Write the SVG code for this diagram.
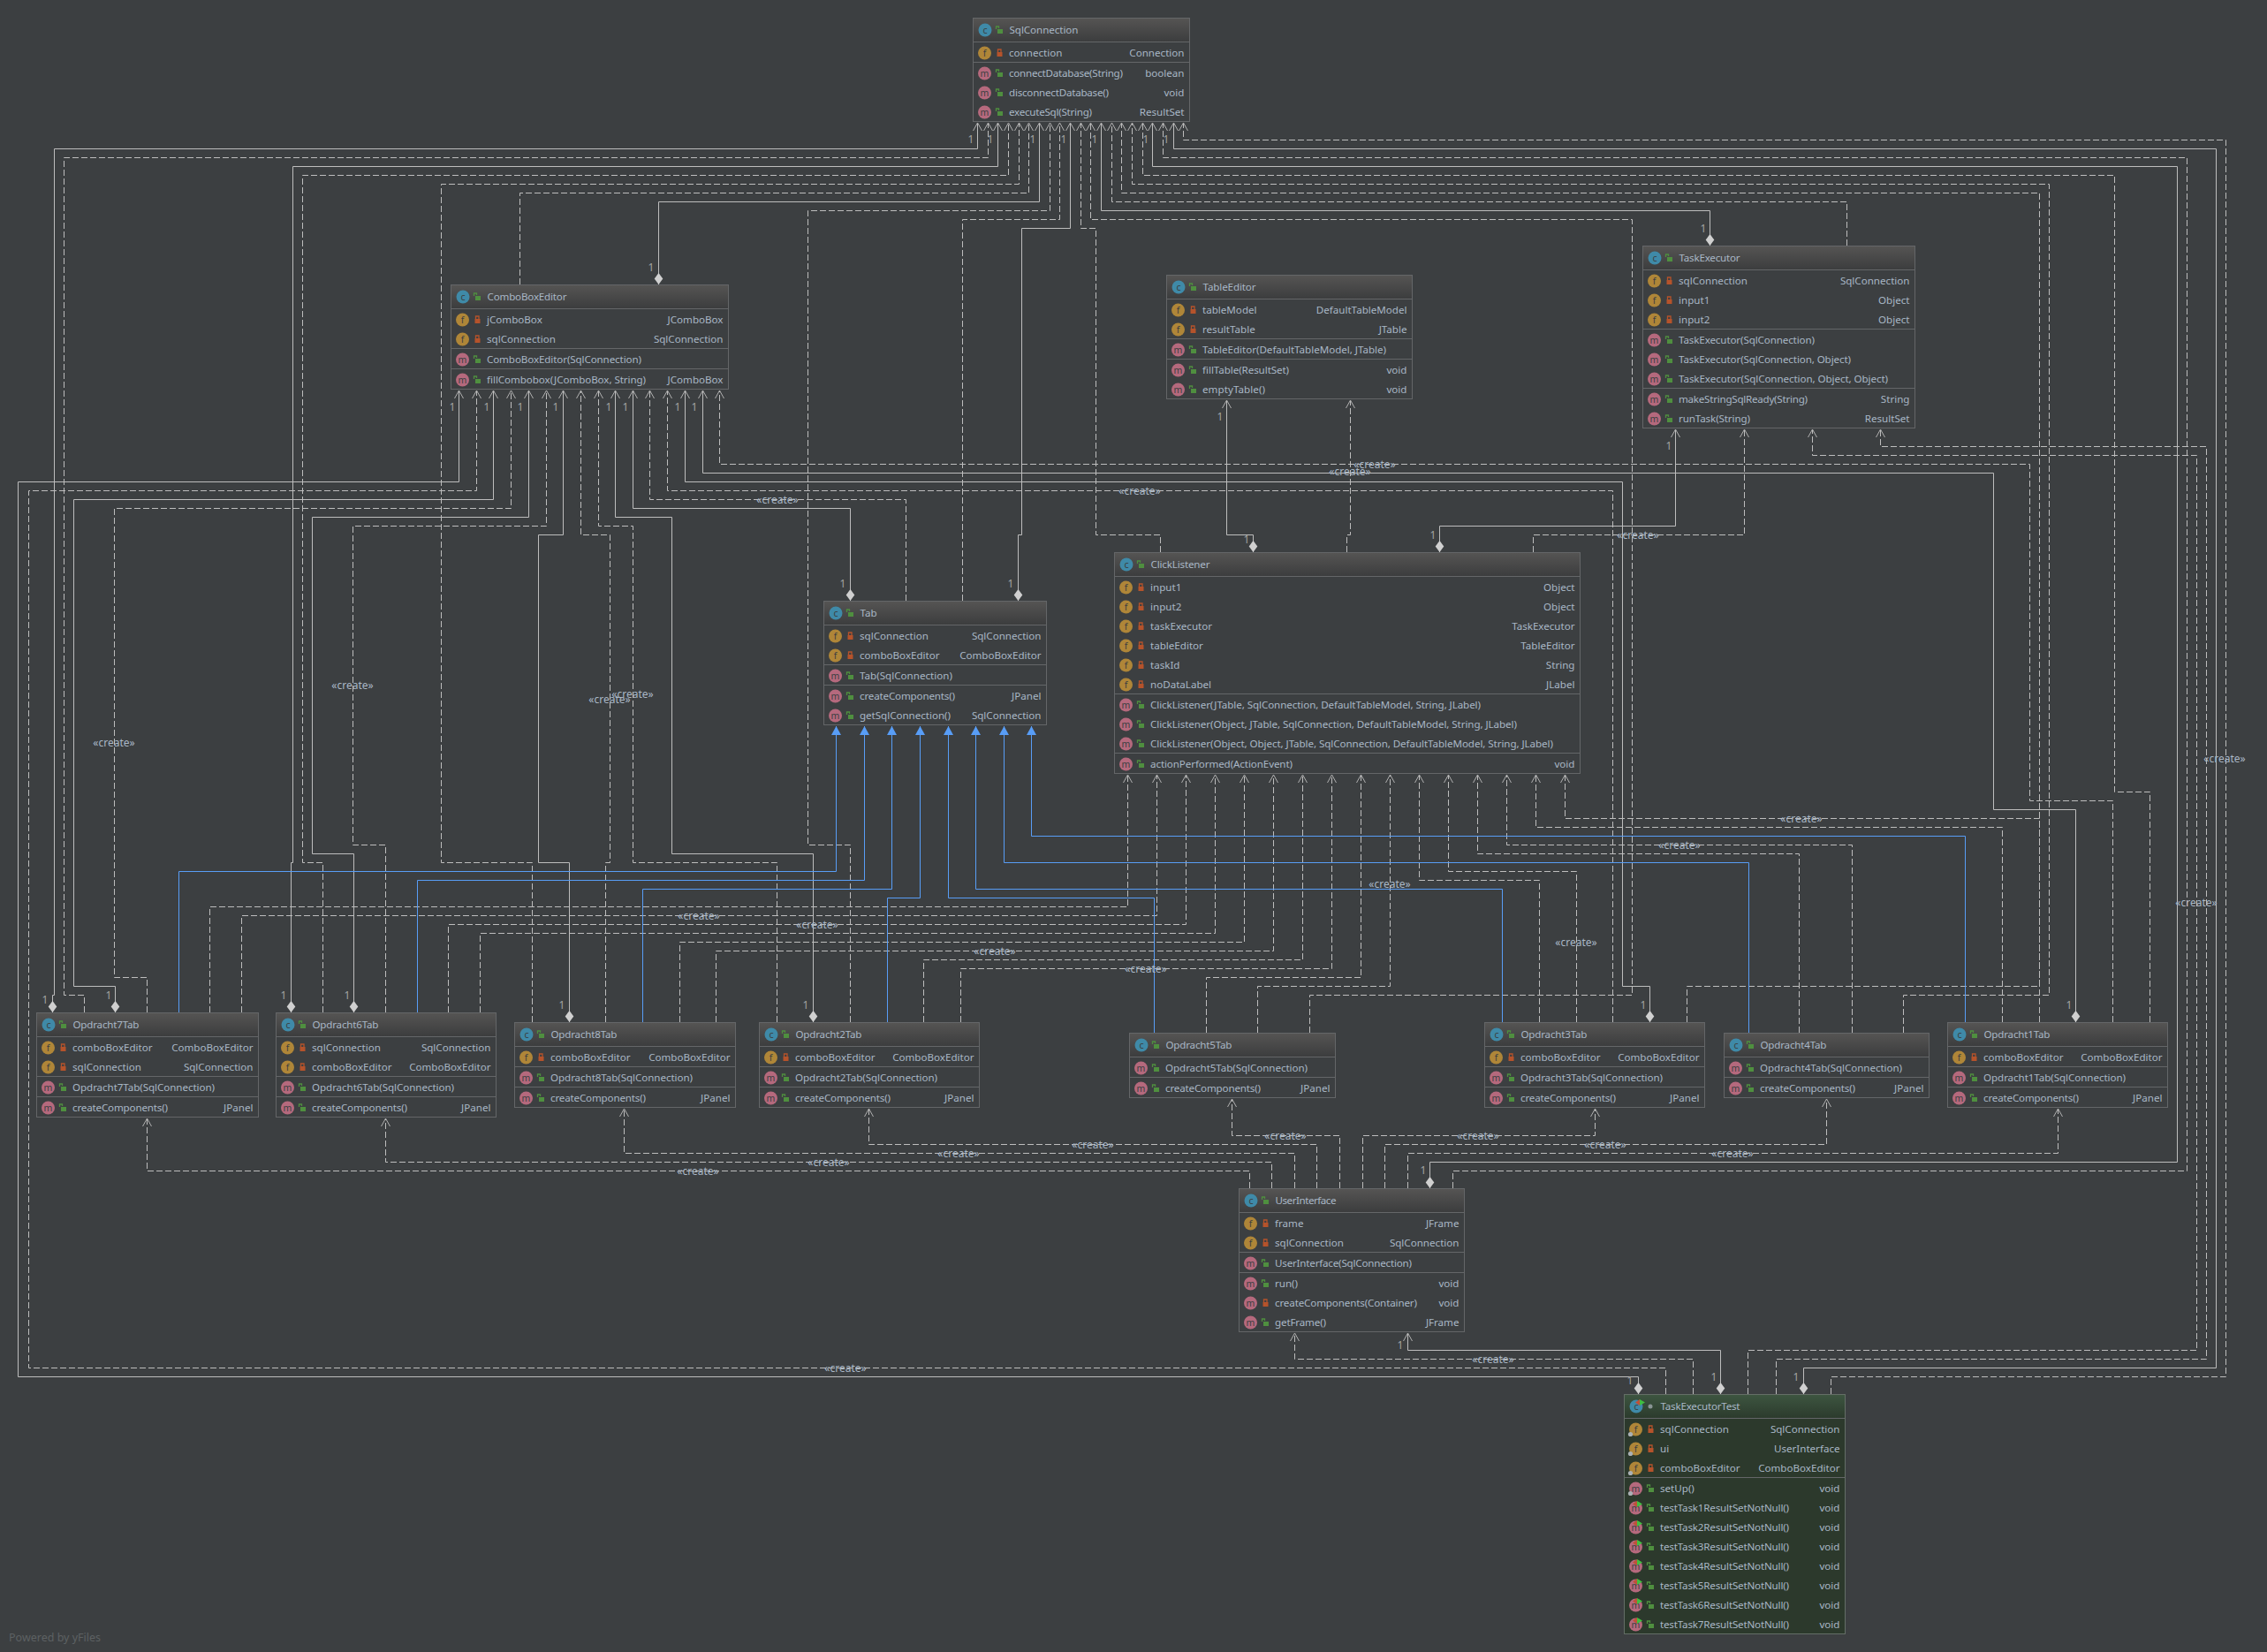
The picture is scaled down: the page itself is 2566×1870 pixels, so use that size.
<svg xmlns="http://www.w3.org/2000/svg" width="2566" height="1870" viewBox="0 0 2566 1870">
<style>
text{font-family:"Noto Sans","Open Sans","Liberation Sans",sans-serif;font-size:11.6px;fill:#a9b7c6}
.t{text-anchor:end}
.l,.o{text-anchor:middle;font-size:12px}
.o{fill:#a3a3a3}
.box{fill:#3c3f41;stroke:#646668;stroke-width:1}
.boxt{fill:#2c392c;stroke:#646e66;stroke-width:1}
.sep{stroke:#646668;stroke-width:1}
.il{fill:#3c3f41;font-size:10.5px;text-anchor:middle}
#connectors path{fill:none;stroke-width:1}
.s{stroke:#bdbdbd}
.d{stroke:#bdbdbd;stroke-dasharray:7 3}
.b{stroke:#589df6}
.pw{font-size:12.5px;fill:#5d6163}
</style>
<defs>
<linearGradient id="hd" x1="0" y1="0" x2="0" y2="1"><stop offset="0" stop-color="#555453"/><stop offset="1" stop-color="#3c3d3e"/></linearGradient>
<linearGradient id="ht" x1="0" y1="0" x2="0" y2="1"><stop offset="0" stop-color="#3d5540"/><stop offset="1" stop-color="#2c3b2d"/></linearGradient>
<g id="ic"><circle cx="14" r="7.5" fill="#3f8aa8"/><text class="il" x="14" y="3.5">c</text></g>
<g id="if"><circle cx="13.5" r="7.5" fill="#af8638"/><text class="il" x="13.5" y="3.5">f</text></g>
<g id="im"><circle cx="13.5" r="7.5" fill="#b5697d"/><text class="il" x="13.5" y="3.5">m</text></g>
<g id="lg"><path d="M26.5-1V-4H29.5V-2" fill="none" stroke="#4f8f3f" stroke-width="1.3"/><rect x="28" y="-1" width="6" height="5" fill="#4f8f3f"/></g>
<g id="lr"><path d="M28.5-1V-4H32V-1" fill="none" stroke="#b5532b" stroke-width="1.3"/><rect x="27.5" y="-1" width="6" height="5" fill="#b5532b"/></g>
<g id="cog"><circle cx="7.5" cy="5.5" r="2.6" fill="#aab0b4"/></g>
<g id="tm"><path d="M15 -8 L21 -4.5 15 -1Z" fill="#3fbf3f"/><path d="M15 -8 L10 -4.5 15 -1Z" fill="#c0503a"/></g>
<marker id="ao" markerUnits="userSpaceOnUse" markerWidth="12" markerHeight="12" refX="10" refY="6" orient="auto"><path d="M1 1L10 6 1 11" fill="none" stroke="#b0b0b0"/></marker>
<marker id="ab" markerUnits="userSpaceOnUse" markerWidth="12" markerHeight="13" refX="11" refY="6.5" orient="auto"><path d="M1 1L11 6.5 1 12Z" fill="#589df6"/></marker>
<marker id="dm" markerUnits="userSpaceOnUse" markerWidth="15" markerHeight="11" refX="1" refY="5.5" orient="auto"><path d="M1 5.5L7.5 .7 14 5.5 7.5 10.3Z" fill="#d0d0d0"/></marker>
</defs>
<rect width="2566" height="1870" fill="#3c3f41"/>
<g id="connectors">
<g marker-start="url(#dm)" marker-end="url(#ao)">
<path class="s" d="M59.5 1146V1126.5H61.5V168.5H1106.5V139"/>
<path class="s" d="M329.5 1146V976.5H331.5V188.5H1129.5V139"/>
<path class="s" d="M745.5 322V228.5H1176.5V139"/>
<path class="s" d="M1152.5 680V605.5H1156.5V258.5H1211.5V139"/>
<path class="s" d="M1935.5 278V238.5H1246.5V139"/>
<path class="s" d="M1618.5 1345V1315.5H2464.5V188.5H1304.5V139"/>
<path class="s" d="M2041.5 1578V1548.5H2508.5V168.5H1328.5V139"/>
<path class="s" d="M1854.5 1578V1558.5H20.5V545.5H519.5V442"/>
<path class="s" d="M130.5 1146V1116.5H83.5V565.5H558.5V442"/>
<path class="s" d="M400.5 1146V966.5H353.5V585.5H598.5V442"/>
<path class="s" d="M644.5 1157V976.5H609.5V605.5H637.5V442"/>
<path class="s" d="M920.5 1157V966.5H760.5V585.5H696.5V442"/>
<path class="s" d="M962.5 680V575.5H716.5V442"/>
<path class="s" d="M1867.5 1157V1116.5H1836.5V545.5H775.5V442"/>
<path class="s" d="M2349.5 1157V916.5H2256.5V535.5H795.5V442"/>
<path class="s" d="M1418.5 625V605.5H1388.5V453"/>
<path class="s" d="M1629.5 625V595.5H1896.5V486"/>
<path class="s" d="M1947.5 1578V1528.5H1593.5V1509"/>
</g>
<g marker-end="url(#ao)">
<path class="d" d="M95.5 1146V1126.5H72.5V178.5H1118.5V139"/>
<path class="d" d="M365.5 1146V976.5H342.5V198.5H1141.5V139"/>
<path class="d" d="M602.5 1157V976.5H499.5V208.5H1153.5V139"/>
<path class="d" d="M588.5 322V218.5H1164.5V139"/>
<path class="d" d="M962.5 1157V956.5H914.5V238.5H1188.5V139"/>
<path class="d" d="M1089.5 680V248.5H1199.5V139"/>
<path class="d" d="M1313.5 625V605.5H1240.5V258.5H1223.5V139"/>
<path class="d" d="M1482.5 1169V1126.5H1847.5V248.5H1234.5V139"/>
<path class="d" d="M2090.5 278V228.5H1258.5V139"/>
<path class="d" d="M1909.5 1157V1116.5H2308.5V218.5H1269.5V139"/>
<path class="d" d="M2154.5 1169V1126.5H2319.5V208.5H1281.5V139"/>
<path class="d" d="M2433.5 1157V896.5H2393.5V198.5H1293.5V139"/>
<path class="d" d="M1644.5 1345V1325.5H2475.5V178.5H1316.5V139"/>
<path class="d" d="M2072.5 1578V1558.5H2519.5V158.5H1339.5V139"/>
<path class="d" d="M1885.5 1578V1548.5H32.5V555.5H539.5V442"/>
<path class="d" d="M166.5 1146V1106.5H129.5V575.5H578.5V442"/>
<path class="d" d="M436.5 1146V956.5H399.5V595.5H618.5V442"/>
<path class="d" d="M685.5 1157V976.5H690.5V605.5H657.5V442"/>
<path class="d" d="M879.5 1157V976.5H716.5V595.5H677.5V442"/>
<path class="d" d="M1025.5 680V565.5H735.5V442"/>
<path class="d" d="M1825.5 1157V555.5H755.5V442"/>
<path class="d" d="M2391.5 1157V906.5H2297.5V525.5H814.5V442"/>
<path class="d" d="M1524.5 625V605.5H1528.5V453"/>
<path class="d" d="M1735.5 625V605.5H1974.5V486"/>
<path class="d" d="M1978.5 1578V1528.5H2486.5V515.5H2051.5V486"/>
<path class="d" d="M2010.5 1578V1538.5H2497.5V505.5H2128.5V486"/>
<path class="d" d="M237.5 1146V1026.5H1276.5V877"/>
<path class="d" d="M273.5 1146V1036.5H1309.5V877"/>
<path class="d" d="M507.5 1146V1046.5H1342.5V877"/>
<path class="d" d="M543.5 1146V1056.5H1375.5V877"/>
<path class="d" d="M769.5 1157V1066.5H1408.5V877"/>
<path class="d" d="M810.5 1157V1076.5H1441.5V877"/>
<path class="d" d="M1045.5 1157V1086.5H1474.5V877"/>
<path class="d" d="M1087.5 1157V1096.5H1507.5V877"/>
<path class="d" d="M1365.5 1169V1106.5H1540.5V877"/>
<path class="d" d="M1423.5 1169V1116.5H1573.5V877"/>
<path class="d" d="M1742.5 1157V996.5H1606.5V877"/>
<path class="d" d="M1784.5 1157V986.5H1639.5V877"/>
<path class="d" d="M2036.5 1169V966.5H1672.5V877"/>
<path class="d" d="M2096.5 1169V956.5H1705.5V877"/>
<path class="d" d="M2266.5 1157V936.5H1738.5V877"/>
<path class="d" d="M2308.5 1157V926.5H1771.5V877"/>
<path class="d" d="M1916.5 1578V1538.5H1465.5V1509"/>
<path class="d" d="M1414.5 1345V1325.5H166.5V1266"/>
<path class="d" d="M1439.5 1345V1315.5H436.5V1266"/>
<path class="d" d="M1465.5 1345V1305.5H706.5V1255"/>
<path class="d" d="M1490.5 1345V1295.5H983.5V1255"/>
<path class="d" d="M1516.5 1345V1285.5H1394.5V1244"/>
<path class="d" d="M1542.5 1345V1285.5H1805.5V1255"/>
<path class="d" d="M1567.5 1345V1295.5H2067.5V1244"/>
<path class="d" d="M1593.5 1345V1305.5H2329.5V1255"/>
</g>
<g marker-end="url(#ab)">
<path class="b" d="M202.5 1146V986.5H946.5V822"/>
<path class="b" d="M472.5 1146V996.5H978.5V822"/>
<path class="b" d="M727.5 1157V1006.5H1009.5V822"/>
<path class="b" d="M1004.5 1157V1016.5H1041.5V822"/>
<path class="b" d="M1306.5 1169V1016.5H1073.5V822"/>
<path class="b" d="M1700.5 1157V1006.5H1104.5V822"/>
<path class="b" d="M1979.5 1169V976.5H1136.5V822"/>
<path class="b" d="M2224.5 1157V946.5H1167.5V822"/>
</g>
</g>
<g id="connector-labels">
<text class="o" x="1099" y="162">1</text><text class="o" x="1121" y="162">1</text><text class="o" x="1169" y="162">1</text><text class="o" x="1204" y="162">1</text><text class="o" x="1239" y="162">1</text><text class="o" x="1297" y="162">1</text><text class="o" x="1320" y="162">1</text>
<text class="o" x="512" y="465">1</text><text class="o" x="551" y="465">1</text><text class="o" x="589" y="465">1</text><text class="o" x="629" y="465">1</text><text class="o" x="689" y="465">1</text><text class="o" x="708" y="465">1</text><text class="o" x="767" y="465">1</text><text class="o" x="786" y="465">1</text>
<text class="o" x="1381" y="476">1</text><text class="o" x="1411" y="615">1</text><text class="o" x="1622" y="610">1</text><text class="o" x="954" y="665">1</text><text class="o" x="1144" y="665">1</text><text class="o" x="737" y="307">1</text><text class="o" x="1928" y="263">1</text><text class="o" x="1889" y="509">1</text>
<text class="o" x="51" y="1136">1</text><text class="o" x="123" y="1131">1</text><text class="o" x="321" y="1131">1</text><text class="o" x="393" y="1131">1</text><text class="o" x="636" y="1142">1</text><text class="o" x="912" y="1142">1</text><text class="o" x="1860" y="1142">1</text><text class="o" x="2342" y="1142">1</text>
<text class="o" x="1611" y="1329">1</text><text class="o" x="1585" y="1527">1</text><text class="o" x="1845" y="1567">1</text><text class="o" x="1940" y="1563">1</text><text class="o" x="2033" y="1563">1</text>
<text class="l" x="880" y="570">«create»</text><text class="l" x="1556" y="530">«create»</text><text class="l" x="1528" y="538">«create»</text><text class="l" x="1290" y="560">«create»</text><text class="l" x="1854" y="610">«create»</text>
<text class="l" x="2039" y="931">«create»</text><text class="l" x="1901" y="961">«create»</text><text class="l" x="1573" y="1005">«create»</text><text class="l" x="791" y="1041">«create»</text><text class="l" x="925" y="1051">«create»</text><text class="l" x="1126" y="1081">«create»</text><text class="l" x="1297" y="1101">«create»</text><text class="l" x="1784" y="1071">«create»</text>
<text class="l" x="399" y="780">«create»</text><text class="l" x="716" y="790">«create»</text><text class="l" x="690" y="796">«create»</text><text class="l" x="129" y="845">«create»</text><text class="l" x="2518" y="863">«create»</text><text class="l" x="2486" y="1026">«create»</text>
<text class="l" x="1455" y="1290">«create»</text><text class="l" x="1673" y="1290">«create»</text><text class="l" x="1237" y="1300">«create»</text><text class="l" x="1817" y="1300">«create»</text><text class="l" x="1085" y="1310">«create»</text><text class="l" x="1961" y="1310">«create»</text><text class="l" x="938" y="1320">«create»</text><text class="l" x="790" y="1330">«create»</text><text class="l" x="1690" y="1543">«create»</text><text class="l" x="957" y="1553">«create»</text>
</g>

<g id="SqlConnection" transform="translate(1101 20)">
<rect class="box" x=".5" y=".5" width="245" height="117"/><rect x="1" y="1" width="244" height="26" fill="url(#hd)"/>
<path class="sep" d="M1 27.5H245M1 50.5H245"/>
<use href="#ic" y="14"/><use href="#lg" y="14"/><text x="41.5" y="18" textLength="78">SqlConnection</text>
<use href="#if" y="40"/><use href="#lr" y="40"/><text x="41" y="44">connection</text><text class="t" x="239.5" y="44">Connection</text>
<use href="#im" y="63"/><use href="#lg" y="63"/><text x="41" y="67" textLength="129">connectDatabase(String)</text><text class="t" x="239.5" y="67">boolean</text>
<use href="#im" y="85"/><use href="#lg" y="85"/><text x="41" y="89" textLength="113">disconnectDatabase()</text><text class="t" x="239.5" y="89">void</text>
<use href="#im" y="107"/><use href="#lg" y="107"/><text x="41" y="111" textLength="94">executeSql(String)</text><text class="t" x="239.5" y="111">ResultSet</text>
</g>

<g id="TaskExecutor" transform="translate(1859 278)">
<rect class="box" x=".5" y=".5" width="308" height="206"/><rect x="1" y="1" width="307" height="26" fill="url(#hd)"/>
<path class="sep" d="M1 27.5H308M1 94.5H308M1 161.5H308"/>
<use href="#ic" y="14"/><use href="#lg" y="14"/><text x="41.5" y="18" textLength="69">TaskExecutor</text>
<use href="#if" y="40"/><use href="#lr" y="40"/><text x="41" y="44">sqlConnection</text><text class="t" x="302.5" y="44">SqlConnection</text>
<use href="#if" y="62"/><use href="#lr" y="62"/><text x="41" y="66">input1</text><text class="t" x="302.5" y="66">Object</text>
<use href="#if" y="84"/><use href="#lr" y="84"/><text x="41" y="88">input2</text><text class="t" x="302.5" y="88">Object</text>
<use href="#im" y="107"/><use href="#lg" y="107"/><text x="41" y="111" textLength="154">TaskExecutor(SqlConnection)</text>
<use href="#im" y="129"/><use href="#lg" y="129"/><text x="41" y="133" textLength="195">TaskExecutor(SqlConnection, Object)</text>
<use href="#im" y="151"/><use href="#lg" y="151"/><text x="41" y="155" textLength="237">TaskExecutor(SqlConnection, Object, Object)</text>
<use href="#im" y="174"/><use href="#lg" y="174"/><text x="41" y="178" textLength="146">makeStringSqlReady(String)</text><text class="t" x="302.5" y="178">String</text>
<use href="#im" y="196"/><use href="#lg" y="196"/><text x="41" y="200" textLength="81">runTask(String)</text><text class="t" x="302.5" y="200">ResultSet</text>
</g>

<g id="ComboBoxEditor" transform="translate(510 322)">
<rect class="box" x=".5" y=".5" width="314" height="118"/><rect x="1" y="1" width="313" height="26" fill="url(#hd)"/>
<path class="sep" d="M1 27.5H314M1 72.5H314M1 95.5H314"/>
<use href="#ic" y="14"/><use href="#lg" y="14"/><text x="41.5" y="18" textLength="90">ComboBoxEditor</text>
<use href="#if" y="40"/><use href="#lr" y="40"/><text x="41" y="44">jComboBox</text><text class="t" x="308.5" y="44">JComboBox</text>
<use href="#if" y="62"/><use href="#lr" y="62"/><text x="41" y="66">sqlConnection</text><text class="t" x="308.5" y="66">SqlConnection</text>
<use href="#im" y="85"/><use href="#lg" y="85"/><text x="41" y="89" textLength="175">ComboBoxEditor(SqlConnection)</text>
<use href="#im" y="108"/><use href="#lg" y="108"/><text x="41" y="112" textLength="180">fillCombobox(JComboBox, String)</text><text class="t" x="308.5" y="112">JComboBox</text>
</g>

<g id="TableEditor" transform="translate(1320 311)">
<rect class="box" x=".5" y=".5" width="278" height="140"/><rect x="1" y="1" width="277" height="26" fill="url(#hd)"/>
<path class="sep" d="M1 27.5H278M1 72.5H278M1 95.5H278"/>
<use href="#ic" y="14"/><use href="#lg" y="14"/><text x="41.5" y="18" textLength="60">TableEditor</text>
<use href="#if" y="40"/><use href="#lr" y="40"/><text x="41" y="44">tableModel</text><text class="t" x="272.5" y="44">DefaultTableModel</text>
<use href="#if" y="62"/><use href="#lr" y="62"/><text x="41" y="66">resultTable</text><text class="t" x="272.5" y="66">JTable</text>
<use href="#im" y="85"/><use href="#lg" y="85"/><text x="41" y="89" textLength="208">TableEditor(DefaultTableModel, JTable)</text>
<use href="#im" y="108"/><use href="#lg" y="108"/><text x="41" y="112" textLength="98">fillTable(ResultSet)</text><text class="t" x="272.5" y="112">void</text>
<use href="#im" y="130"/><use href="#lg" y="130"/><text x="41" y="134" textLength="71">emptyTable()</text><text class="t" x="272.5" y="134">void</text>
</g>

<g id="Tab" transform="translate(932 680)">
<rect class="box" x=".5" y=".5" width="252" height="140"/><rect x="1" y="1" width="251" height="26" fill="url(#hd)"/>
<path class="sep" d="M1 27.5H252M1 72.5H252M1 95.5H252"/>
<use href="#ic" y="14"/><use href="#lg" y="14"/><text x="41.5" y="18">Tab</text>
<use href="#if" y="40"/><use href="#lr" y="40"/><text x="41" y="44">sqlConnection</text><text class="t" x="246.5" y="44">SqlConnection</text>
<use href="#if" y="62"/><use href="#lr" y="62"/><text x="41" y="66">comboBoxEditor</text><text class="t" x="246.5" y="66">ComboBoxEditor</text>
<use href="#im" y="85"/><use href="#lg" y="85"/><text x="41" y="89" textLength="105">Tab(SqlConnection)</text>
<use href="#im" y="108"/><use href="#lg" y="108"/><text x="41" y="112" textLength="108">createComponents()</text><text class="t" x="246.5" y="112">JPanel</text>
<use href="#im" y="130"/><use href="#lg" y="130"/><text x="41" y="134" textLength="103">getSqlConnection()</text><text class="t" x="246.5" y="134">SqlConnection</text>
</g>

<g id="ClickListener" transform="translate(1261 625)">
<rect class="box" x=".5" y=".5" width="527" height="250"/><rect x="1" y="1" width="526" height="26" fill="url(#hd)"/>
<path class="sep" d="M1 27.5H527M1 160.5H527M1 227.5H527"/>
<use href="#ic" y="14"/><use href="#lg" y="14"/><text x="41.5" y="18" textLength="67">ClickListener</text>
<use href="#if" y="40"/><use href="#lr" y="40"/><text x="41" y="44">input1</text><text class="t" x="521.5" y="44">Object</text>
<use href="#if" y="62"/><use href="#lr" y="62"/><text x="41" y="66">input2</text><text class="t" x="521.5" y="66">Object</text>
<use href="#if" y="84"/><use href="#lr" y="84"/><text x="41" y="88">taskExecutor</text><text class="t" x="521.5" y="88">TaskExecutor</text>
<use href="#if" y="106"/><use href="#lr" y="106"/><text x="41" y="110">tableEditor</text><text class="t" x="521.5" y="110">TableEditor</text>
<use href="#if" y="128"/><use href="#lr" y="128"/><text x="41" y="132">taskId</text><text class="t" x="521.5" y="132">String</text>
<use href="#if" y="150"/><use href="#lr" y="150"/><text x="41" y="154">noDataLabel</text><text class="t" x="521.5" y="154">JLabel</text>
<use href="#im" y="173"/><use href="#lg" y="173"/><text x="41" y="177" textLength="374">ClickListener(JTable, SqlConnection, DefaultTableModel, String, JLabel)</text>
<use href="#im" y="195"/><use href="#lg" y="195"/><text x="41" y="199" textLength="415">ClickListener(Object, JTable, SqlConnection, DefaultTableModel, String, JLabel)</text>
<use href="#im" y="217"/><use href="#lg" y="217"/><text x="41" y="221" textLength="456">ClickListener(Object, Object, JTable, SqlConnection, DefaultTableModel, String, JLabel)</text>
<use href="#im" y="240"/><use href="#lg" y="240"/><text x="41" y="244" textLength="161">actionPerformed(ActionEvent)</text><text class="t" x="521.5" y="244">void</text>
</g>

<g id="Opdracht7Tab" transform="translate(41 1146)">
<rect class="box" x=".5" y=".5" width="251" height="118"/><rect x="1" y="1" width="250" height="26" fill="url(#hd)"/>
<path class="sep" d="M1 27.5H251M1 72.5H251M1 95.5H251"/>
<use href="#ic" y="14"/><use href="#lg" y="14"/><text x="41.5" y="18" textLength="75">Opdracht7Tab</text>
<use href="#if" y="40"/><use href="#lr" y="40"/><text x="41" y="44">comboBoxEditor</text><text class="t" x="245.5" y="44">ComboBoxEditor</text>
<use href="#if" y="62"/><use href="#lr" y="62"/><text x="41" y="66">sqlConnection</text><text class="t" x="245.5" y="66">SqlConnection</text>
<use href="#im" y="85"/><use href="#lg" y="85"/><text x="41" y="89" textLength="161">Opdracht7Tab(SqlConnection)</text>
<use href="#im" y="108"/><use href="#lg" y="108"/><text x="41" y="112" textLength="108">createComponents()</text><text class="t" x="245.5" y="112">JPanel</text>
</g>

<g id="Opdracht6Tab" transform="translate(312 1146)">
<rect class="box" x=".5" y=".5" width="249" height="118"/><rect x="1" y="1" width="248" height="26" fill="url(#hd)"/>
<path class="sep" d="M1 27.5H249M1 72.5H249M1 95.5H249"/>
<use href="#ic" y="14"/><use href="#lg" y="14"/><text x="41.5" y="18" textLength="75">Opdracht6Tab</text>
<use href="#if" y="40"/><use href="#lr" y="40"/><text x="41" y="44">sqlConnection</text><text class="t" x="243.5" y="44">SqlConnection</text>
<use href="#if" y="62"/><use href="#lr" y="62"/><text x="41" y="66">comboBoxEditor</text><text class="t" x="243.5" y="66">ComboBoxEditor</text>
<use href="#im" y="85"/><use href="#lg" y="85"/><text x="41" y="89" textLength="161">Opdracht6Tab(SqlConnection)</text>
<use href="#im" y="108"/><use href="#lg" y="108"/><text x="41" y="112" textLength="108">createComponents()</text><text class="t" x="243.5" y="112">JPanel</text>
</g>

<g id="Opdracht8Tab" transform="translate(582 1157)">
<rect class="box" x=".5" y=".5" width="250" height="96"/><rect x="1" y="1" width="249" height="26" fill="url(#hd)"/>
<path class="sep" d="M1 27.5H250M1 50.5H250M1 73.5H250"/>
<use href="#ic" y="14"/><use href="#lg" y="14"/><text x="41.5" y="18" textLength="75">Opdracht8Tab</text>
<use href="#if" y="40"/><use href="#lr" y="40"/><text x="41" y="44">comboBoxEditor</text><text class="t" x="244.5" y="44">ComboBoxEditor</text>
<use href="#im" y="63"/><use href="#lg" y="63"/><text x="41" y="67" textLength="161">Opdracht8Tab(SqlConnection)</text>
<use href="#im" y="86"/><use href="#lg" y="86"/><text x="41" y="90" textLength="108">createComponents()</text><text class="t" x="244.5" y="90">JPanel</text>
</g>

<g id="Opdracht2Tab" transform="translate(859 1157)">
<rect class="box" x=".5" y=".5" width="249" height="96"/><rect x="1" y="1" width="248" height="26" fill="url(#hd)"/>
<path class="sep" d="M1 27.5H249M1 50.5H249M1 73.5H249"/>
<use href="#ic" y="14"/><use href="#lg" y="14"/><text x="41.5" y="18" textLength="75">Opdracht2Tab</text>
<use href="#if" y="40"/><use href="#lr" y="40"/><text x="41" y="44">comboBoxEditor</text><text class="t" x="243.5" y="44">ComboBoxEditor</text>
<use href="#im" y="63"/><use href="#lg" y="63"/><text x="41" y="67" textLength="161">Opdracht2Tab(SqlConnection)</text>
<use href="#im" y="86"/><use href="#lg" y="86"/><text x="41" y="90" textLength="108">createComponents()</text><text class="t" x="243.5" y="90">JPanel</text>
</g>

<g id="Opdracht5Tab" transform="translate(1278 1169)">
<rect class="box" x=".5" y=".5" width="233" height="73"/><rect x="1" y="1" width="232" height="26" fill="url(#hd)"/>
<path class="sep" d="M1 27.5H233M1 50.5H233"/>
<use href="#ic" y="14"/><use href="#lg" y="14"/><text x="41.5" y="18" textLength="75">Opdracht5Tab</text>
<use href="#im" y="40"/><use href="#lg" y="40"/><text x="41" y="44" textLength="161">Opdracht5Tab(SqlConnection)</text>
<use href="#im" y="63"/><use href="#lg" y="63"/><text x="41" y="67" textLength="108">createComponents()</text><text class="t" x="227.5" y="67">JPanel</text>
</g>

<g id="Opdracht3Tab" transform="translate(1680 1157)">
<rect class="box" x=".5" y=".5" width="249" height="96"/><rect x="1" y="1" width="248" height="26" fill="url(#hd)"/>
<path class="sep" d="M1 27.5H249M1 50.5H249M1 73.5H249"/>
<use href="#ic" y="14"/><use href="#lg" y="14"/><text x="41.5" y="18" textLength="75">Opdracht3Tab</text>
<use href="#if" y="40"/><use href="#lr" y="40"/><text x="41" y="44">comboBoxEditor</text><text class="t" x="243.5" y="44">ComboBoxEditor</text>
<use href="#im" y="63"/><use href="#lg" y="63"/><text x="41" y="67" textLength="161">Opdracht3Tab(SqlConnection)</text>
<use href="#im" y="86"/><use href="#lg" y="86"/><text x="41" y="90" textLength="108">createComponents()</text><text class="t" x="243.5" y="90">JPanel</text>
</g>

<g id="Opdracht4Tab" transform="translate(1951 1169)">
<rect class="box" x=".5" y=".5" width="232" height="73"/><rect x="1" y="1" width="231" height="26" fill="url(#hd)"/>
<path class="sep" d="M1 27.5H232M1 50.5H232"/>
<use href="#ic" y="14"/><use href="#lg" y="14"/><text x="41.5" y="18" textLength="75">Opdracht4Tab</text>
<use href="#im" y="40"/><use href="#lg" y="40"/><text x="41" y="44" textLength="161">Opdracht4Tab(SqlConnection)</text>
<use href="#im" y="63"/><use href="#lg" y="63"/><text x="41" y="67" textLength="108">createComponents()</text><text class="t" x="226.5" y="67">JPanel</text>
</g>

<g id="Opdracht1Tab" transform="translate(2204 1157)">
<rect class="box" x=".5" y=".5" width="249" height="96"/><rect x="1" y="1" width="248" height="26" fill="url(#hd)"/>
<path class="sep" d="M1 27.5H249M1 50.5H249M1 73.5H249"/>
<use href="#ic" y="14"/><use href="#lg" y="14"/><text x="41.5" y="18" textLength="75">Opdracht1Tab</text>
<use href="#if" y="40"/><use href="#lr" y="40"/><text x="41" y="44">comboBoxEditor</text><text class="t" x="243.5" y="44">ComboBoxEditor</text>
<use href="#im" y="63"/><use href="#lg" y="63"/><text x="41" y="67" textLength="161">Opdracht1Tab(SqlConnection)</text>
<use href="#im" y="86"/><use href="#lg" y="86"/><text x="41" y="90" textLength="108">createComponents()</text><text class="t" x="243.5" y="90">JPanel</text>
</g>

<g id="UserInterface" transform="translate(1402 1345)">
<rect class="box" x=".5" y=".5" width="255" height="162"/><rect x="1" y="1" width="254" height="26" fill="url(#hd)"/>
<path class="sep" d="M1 27.5H255M1 72.5H255M1 95.5H255"/>
<use href="#ic" y="14"/><use href="#lg" y="14"/><text x="41.5" y="18" textLength="69">UserInterface</text>
<use href="#if" y="40"/><use href="#lr" y="40"/><text x="41" y="44">frame</text><text class="t" x="249.5" y="44">JFrame</text>
<use href="#if" y="62"/><use href="#lr" y="62"/><text x="41" y="66">sqlConnection</text><text class="t" x="249.5" y="66">SqlConnection</text>
<use href="#im" y="85"/><use href="#lg" y="85"/><text x="41" y="89" textLength="155">UserInterface(SqlConnection)</text>
<use href="#im" y="108"/><use href="#lg" y="108"/><text x="41" y="112">run()</text><text class="t" x="249.5" y="112">void</text>
<use href="#im" y="130"/><use href="#lr" y="130"/><text x="41" y="134" textLength="161">createComponents(Container)</text><text class="t" x="249.5" y="134">void</text>
<use href="#im" y="152"/><use href="#lg" y="152"/><text x="41" y="156" textLength="58">getFrame()</text><text class="t" x="249.5" y="156">JFrame</text>
</g>

<g id="TaskExecutorTest" transform="translate(1838 1578)">
<rect class="boxt" x=".5" y=".5" width="250" height="271"/><rect x="1" y="1" width="249" height="26" fill="url(#ht)"/>
<path class="sep" d="M1 27.5H250M1 94.5H250"/>
<use href="#ic" y="14"/><use href="#tm" x="3" y="14"/><circle cx="30" cy="14" r="2.5" fill="#8a9494"/><text x="41.5" y="18" textLength="90">TaskExecutorTest</text>
<use href="#if" y="40"/><use href="#cog" y="40"/><use href="#lr" y="40"/><text x="41" y="44">sqlConnection</text><text class="t" x="244.5" y="44">SqlConnection</text>
<use href="#if" y="62"/><use href="#cog" y="62"/><use href="#lr" y="62"/><text x="41" y="66">ui</text><text class="t" x="244.5" y="66">UserInterface</text>
<use href="#if" y="84"/><use href="#cog" y="84"/><use href="#lr" y="84"/><text x="41" y="88">comboBoxEditor</text><text class="t" x="244.5" y="88">ComboBoxEditor</text>
<use href="#im" y="107"/><use href="#cog" y="107"/><use href="#lg" y="107"/><text x="41" y="111">setUp()</text><text class="t" x="244.5" y="111">void</text>
<use href="#im" y="129"/><use href="#tm" y="129"/><use href="#lg" y="129"/><text x="41" y="133" textLength="146">testTask1ResultSetNotNull()</text><text class="t" x="244.5" y="133">void</text>
<use href="#im" y="151"/><use href="#tm" y="151"/><use href="#lg" y="151"/><text x="41" y="155" textLength="146">testTask2ResultSetNotNull()</text><text class="t" x="244.5" y="155">void</text>
<use href="#im" y="173"/><use href="#tm" y="173"/><use href="#lg" y="173"/><text x="41" y="177" textLength="146">testTask3ResultSetNotNull()</text><text class="t" x="244.5" y="177">void</text>
<use href="#im" y="195"/><use href="#tm" y="195"/><use href="#lg" y="195"/><text x="41" y="199" textLength="146">testTask4ResultSetNotNull()</text><text class="t" x="244.5" y="199">void</text>
<use href="#im" y="217"/><use href="#tm" y="217"/><use href="#lg" y="217"/><text x="41" y="221" textLength="146">testTask5ResultSetNotNull()</text><text class="t" x="244.5" y="221">void</text>
<use href="#im" y="239"/><use href="#tm" y="239"/><use href="#lg" y="239"/><text x="41" y="243" textLength="146">testTask6ResultSetNotNull()</text><text class="t" x="244.5" y="243">void</text>
<use href="#im" y="261"/><use href="#tm" y="261"/><use href="#lg" y="261"/><text x="41" y="265" textLength="146">testTask7ResultSetNotNull()</text><text class="t" x="244.5" y="265">void</text>
</g>
<text class="pw" x="10" y="1858">Powered by yFiles</text>
</svg>
